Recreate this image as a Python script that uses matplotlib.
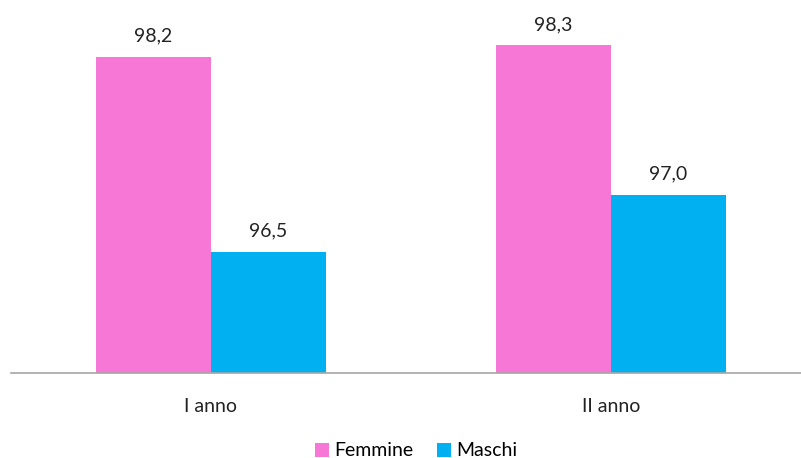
import matplotlib.pyplot as plt
import numpy as np

categories = ["I anno", "II anno"]
femmine = [98.2, 98.3]
maschi = [96.5, 97.0]

plt.rcParams["font.family"] = ["Lato", "DejaVu Sans"]

fig = plt.figure(figsize=(8.01, 4.58), dpi=100)
ax = fig.add_axes([11 / 801, (458 - 372.5) / 458, 800 / 801, 350 / 458])

x = np.arange(len(categories))
w = 0.2875
pink = "#F777D6"
blue = "#00B0F0"
b1 = ax.bar(x - w / 2, femmine, w, color=pink, label="Femmine")
b2 = ax.bar(x + w / 2, maschi, w, color=blue, label="Maschi")

for bars, vals in ((b1, femmine), (b2, maschi)):
    for b, v in zip(bars, vals):
        ax.annotate(f"{v:.1f}".replace(".", ","), (b.get_x() + b.get_width() / 2, v),
                    xytext=(0, 9), textcoords="offset points", ha="center", va="bottom",
                    fontsize=14, color="#222222")

ax.set_ylim(95.45, 98.5)
ax.set_xlim(-0.5, 1.5)
ax.set_yticks([])
ax.set_xticks(x)
ax.set_xticklabels(categories, fontsize=14, color="#222222")
ax.tick_params(axis="x", length=0, pad=18)
for s in ("top", "left", "right"):
    ax.spines[s].set_visible(False)
ax.spines["bottom"].set_color("#A6A6A6")
ax.spines["bottom"].set_linewidth(1.2)

fig.legend(handles=[b1, b2], loc="center", bbox_to_anchor=(0.52, 1 - 451 / 458), ncol=2,
           frameon=False, fontsize=14, handlelength=0.7, handleheight=0.7,
           handletextpad=0.3, columnspacing=1.2)

fig.savefig("out.png", dpi=100)
